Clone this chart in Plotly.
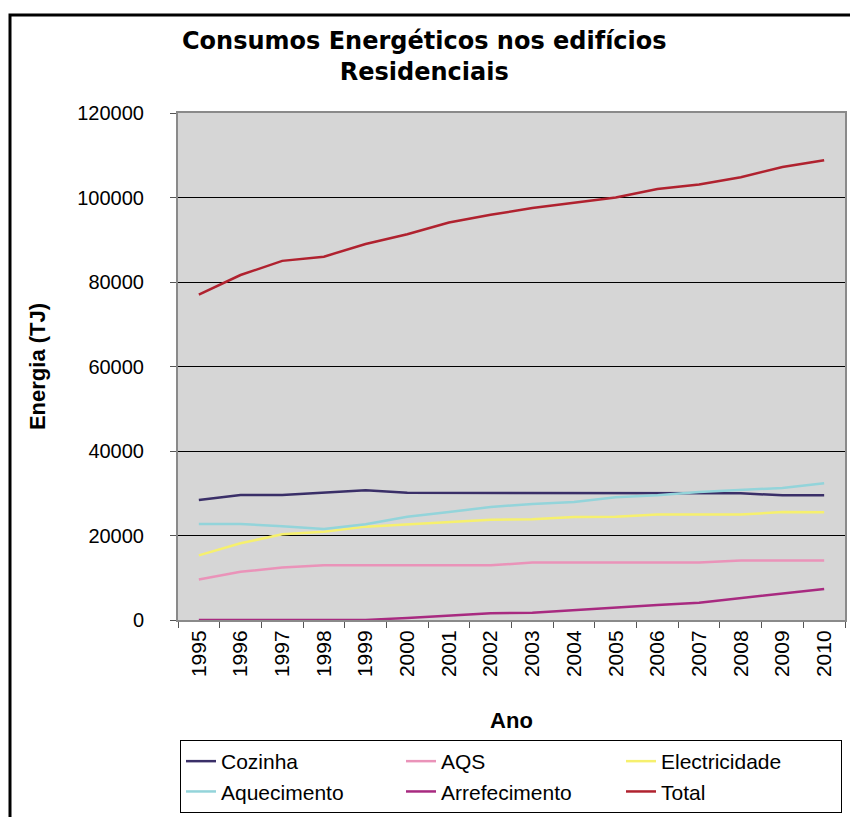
import plotly.graph_objects as go

# Anos e consumos (TJ) por uso final nos edifícios residenciais
anos = [str(a) for a in range(1995, 2011)]
cozinha = [28400, 29600, 29600, 30100, 30700, 30100, 30100, 30100,
           30000, 30000, 30000, 30000, 30100, 30000, 29500, 29500]
aqs = [9600, 11400, 12400, 12950, 12950, 12950, 12950, 12950,
       13600, 13600, 13600, 13600, 13600, 14100, 14100, 14100]
electricidade = [15300, 18150, 20300, 20900, 22100, 22650, 23300, 23750,
                 23850, 24400, 24450, 24950, 24950, 24950, 25550, 25500]
aquecimento = [22700, 22700, 22200, 21550, 22650, 24450, 25550, 26750,
               27450, 27950, 29050, 29500, 30300, 30750, 31250, 32350]
arrefecimento = [0, 0, 0, 0, 0, 500, 1050, 1600,
                 1700, 2350, 3000, 3550, 4100, 5150, 6300, 7350]
total = [77000, 81650, 85000, 86000, 89000, 91300, 94100, 95900,
         97500, 98700, 100000, 102000, 103100, 104800, 107200, 108800]

series = [
    ("Cozinha", cozinha, "#3a2f68"),
    ("AQS", aqs, "#ea93b9"),
    ("Electricidade", electricidade, "#f6f06e"),
    ("Aquecimento", aquecimento, "#93d4da"),
    ("Arrefecimento", arrefecimento, "#a82a80"),
    ("Total", total, "#b0222f"),
]

fig = go.Figure()
for nome, valores, cor in series:
    fig.add_trace(go.Scatter(
        x=anos, y=valores, name=nome, mode="lines",
        line=dict(color=cor, width=2.5),
    ))

W, H = 850, 817
L, R, T, B = 178, 5, 113, 197
pw, ph = W - L - R, H - T - B

def px_x(p):
    return (p - L) / pw

def px_y(p):
    return (H - B - p) / ph

font_main = "Liberation Sans, Arial, sans-serif"
font_title = "DejaVu Sans, Verdana, sans-serif"

fig.update_layout(
    width=W, height=H,
    margin=dict(l=L, r=R, t=T, b=B, pad=0, autoexpand=False),
    paper_bgcolor="white",
    plot_bgcolor="#d6d6d6",
    font=dict(family=font_main, size=20, color="black"),
    showlegend=True,
    legend=dict(
        orientation="h",
        xref="container", yref="container",
        x=180 / W, y=1 - 740 / H, xanchor="left", yanchor="top",
        bordercolor="black", borderwidth=1, bgcolor="white",
        entrywidth=175, entrywidthmode="pixels",
        font=dict(family=font_main, size=21, color="black"),
        itemwidth=30, tracegroupgap=0,
    ),
    xaxis=dict(
        type="category",
        range=[-0.5, len(anos) - 0.5],
        tickson="boundaries",
        ticks="outside", ticklen=6, tickcolor="#555555",
        tickangle=-90,
        tickfont=dict(size=21),
        showgrid=False,
        showline=True, linecolor="#8a8a8a", linewidth=2, mirror=True,
        title=dict(text="<b>Ano</b>", font=dict(size=22), standoff=36),
        zeroline=False, automargin=False,
    ),
    yaxis=dict(
        range=[0, 120000], dtick=20000, tickformat="d",
        ticks="outside", ticklen=6, tickcolor="#555555",
        ticklabelstandoff=22,
        tickfont=dict(size=20),
        showgrid=True, gridcolor="black", gridwidth=1,
        showline=True, linecolor="#8a8a8a", linewidth=2, mirror=True,
        zeroline=False, automargin=False,
        title=dict(text="<b>Energia (TJ)</b>", font=dict(size=22), standoff=26),
    ),
    annotations=[
        dict(
            text="<b>Consumos Energéticos nos edifícios<br>Residenciais</b>",
            x=px_x(424), y=px_y(56), xref="paper", yref="paper",
            xanchor="center", yanchor="middle", showarrow=False,
            font=dict(family=font_title, size=24, color="black"),
        ),
    ],
    shapes=[
        dict(
            type="rect", xref="paper", yref="paper",
            x0=px_x(10), x1=px_x(860), y0=px_y(830), y1=px_y(15),
            line=dict(color="black", width=3), fillcolor="rgba(0,0,0,0)",
            layer="below",
        ),
    ],
)

fig.write_html("out.html")
